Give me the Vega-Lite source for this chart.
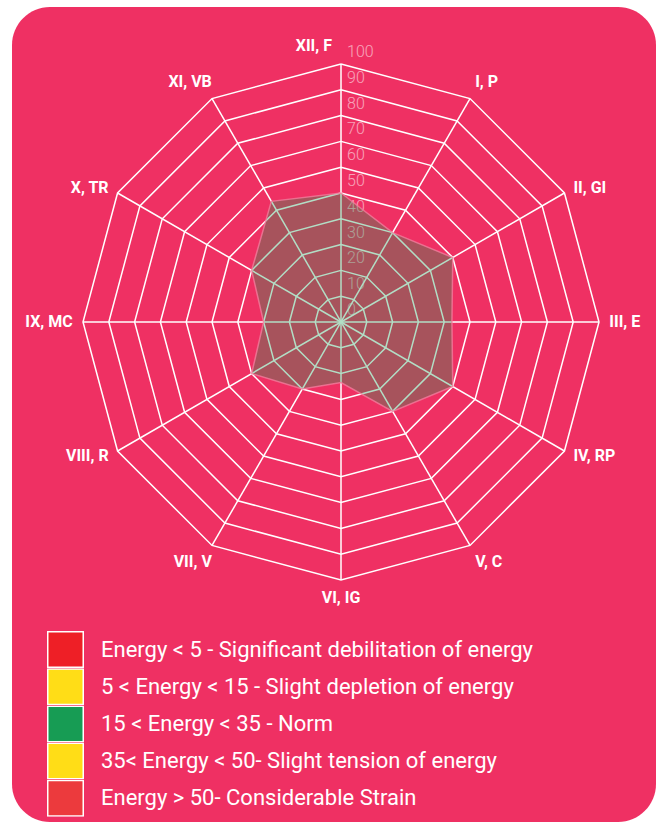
{
  "$schema": "https://vega.github.io/schema/vega-lite/v6.json",
  "width": 664,
  "height": 829,
  "autosize": {"type": "fit", "contains": "padding"},
  "padding": {"left": 12, "top": 7, "right": 8, "bottom": 7},
  "background": "#ffffff",
  "config": {
    "view": {"stroke": null},
    "legend": {
      "orient": "none",
      "legendX": 35,
      "legendY": 624,
      "padding": 0,
      "symbolType": "square",
      "symbolSize": 1260,
      "symbolStrokeColor": "#ffffff",
      "symbolStrokeWidth": 1.5,
      "symbolOpacity": 1,
      "labelFont": "Roboto",
      "labelFontSize": 22,
      "labelColor": "#ffffff",
      "labelOffset": 17,
      "labelLimit": 0,
      "clipHeight": 37,
      "rowPadding": 0.2
    }
  },
  "datasets": {
    "axes": [
      {"k": 0, "label": "XII, F", "value": 50},
      {"k": 1, "label": "I, P", "value": 40},
      {"k": 2, "label": "II, GI", "value": 50},
      {"k": 3, "label": "III, E", "value": 43},
      {"k": 4, "label": "IV, RP", "value": 50},
      {"k": 5, "label": "V, C", "value": 40},
      {"k": 6, "label": "VI, IG", "value": 23.5},
      {"k": 7, "label": "VII, V", "value": 30},
      {"k": 8, "label": "VIII, R", "value": 40},
      {"k": 9, "label": "IX, MC", "value": 30},
      {"k": 10, "label": "X, TR", "value": 40},
      {"k": 11, "label": "XI, VB", "value": 54}
    ],
    "rings": [
      {"level": 10, "k": [0,1,2,3,4,5,6,7,8,9,10,11,12]},
      {"level": 20, "k": [0,1,2,3,4,5,6,7,8,9,10,11,12]},
      {"level": 30, "k": [0,1,2,3,4,5,6,7,8,9,10,11,12]},
      {"level": 40, "k": [0,1,2,3,4,5,6,7,8,9,10,11,12]},
      {"level": 50, "k": [0,1,2,3,4,5,6,7,8,9,10,11,12]},
      {"level": 60, "k": [0,1,2,3,4,5,6,7,8,9,10,11,12]},
      {"level": 70, "k": [0,1,2,3,4,5,6,7,8,9,10,11,12]},
      {"level": 80, "k": [0,1,2,3,4,5,6,7,8,9,10,11,12]},
      {"level": 90, "k": [0,1,2,3,4,5,6,7,8,9,10,11,12]},
      {"level": 100, "k": [0,1,2,3,4,5,6,7,8,9,10,11,12]}
    ],
    "spokes": [
      {"k": 0, "level": [0, 100]}, {"k": 1, "level": [0, 100]}, {"k": 2, "level": [0, 100]},
      {"k": 3, "level": [0, 100]}, {"k": 4, "level": [0, 100]}, {"k": 5, "level": [0, 100]},
      {"k": 6, "level": [0, 100]}, {"k": 7, "level": [0, 100]}, {"k": 8, "level": [0, 100]},
      {"k": 9, "level": [0, 100]}, {"k": 10, "level": [0, 100]}, {"k": 11, "level": [0, 100]}
    ],
    "ticks": [
      {"level": 0}, {"level": 10}, {"level": 20}, {"level": 30}, {"level": 40}, {"level": 50},
      {"level": 60}, {"level": 70}, {"level": 80}, {"level": 90}, {"level": 100}
    ],
    "legend": [
      {"cat": "Energy < 5 - Significant debilitation of energy"},
      {"cat": "5 < Energy < 15 - Slight depletion of energy"},
      {"cat": "15 < Energy < 35 - Norm"},
      {"cat": "35< Energy < 50- Slight tension of energy"},
      {"cat": "Energy > 50- Considerable Strain"}
    ]
  },
  "layer": [
    {
      "data": {"values": [{}]},
      "mark": {"type": "rect", "color": "#EF3063", "cornerRadius": 38},
      "encoding": {}
    },
    {
      "data": {"name": "rings"},
      "transform": [
        {"flatten": ["k"]},
        {"calculate": "datum.level * sin(datum.k * PI / 6)", "as": "x"},
        {"calculate": "datum.level * cos(datum.k * PI / 6)", "as": "y"}
      ],
      "mark": {"type": "line", "color": "#ffffff", "strokeWidth": 1.5},
      "encoding": {
        "x": {"field": "x", "type": "quantitative", "scale": {"domain": [-127.52, 122.09], "nice": false, "zero": false}, "axis": null},
        "y": {"field": "y", "type": "quantitative", "scale": {"domain": [-193.8, 122.09], "nice": false, "zero": false}, "axis": null},
        "detail": {"field": "level", "type": "nominal"},
        "order": {"field": "k", "type": "quantitative"}
      }
    },
    {
      "data": {"name": "spokes"},
      "transform": [
        {"flatten": ["level"]},
        {"calculate": "datum.level * sin(datum.k * PI / 6)", "as": "x"},
        {"calculate": "datum.level * cos(datum.k * PI / 6)", "as": "y"}
      ],
      "mark": {"type": "line", "color": "#ffffff", "strokeWidth": 1.5},
      "encoding": {
        "x": {"field": "x", "type": "quantitative"},
        "y": {"field": "y", "type": "quantitative"},
        "detail": {"field": "k", "type": "nominal"},
        "order": {"field": "level", "type": "quantitative"}
      }
    },
    {
      "data": {"name": "ticks"},
      "transform": [
        {"calculate": "0 * datum.level", "as": "x"}
      ],
      "mark": {"type": "text", "align": "left", "baseline": "bottom", "dx": 6, "dy": -4, "font": "Roboto", "fontWeight": 300, "fontSize": 16, "color": "#ffffff", "opacity": 0.55},
      "encoding": {
        "x": {"field": "x", "type": "quantitative"},
        "y": {"field": "level", "type": "quantitative"},
        "text": {"field": "level", "type": "quantitative"}
      }
    },
    {
      "data": {"name": "axes"},
      "transform": [
        {"calculate": "datum.value * sin(datum.k * PI / 6)", "as": "x"},
        {"calculate": "datum.value * cos(datum.k * PI / 6)", "as": "y"}
      ],
      "mark": {"type": "line", "interpolate": "linear-closed", "fill": "#149A50", "fillOpacity": 0.33, "stroke": "#F27C9C", "strokeOpacity": 0.8, "strokeWidth": 1.5},
      "encoding": {
        "x": {"field": "x", "type": "quantitative"},
        "y": {"field": "y", "type": "quantitative"},
        "order": {"field": "k", "type": "quantitative"}
      }
    },
    {
      "data": {"name": "axes"},
      "transform": [
        {"calculate": "104 * sin(datum.k * PI / 6)", "as": "x"},
        {"calculate": "104 * cos(datum.k * PI / 6)", "as": "y"}
      ],
      "mark": {
        "type": "text",
        "font": "Roboto",
        "fontWeight": "bold",
        "fontSize": 16,
        "color": "#ffffff",
        "align": {"expr": "datum.k == 6 ? 'center' : (datum.k >= 1 && datum.k <= 5) ? 'left' : 'right'"},
        "baseline": {"expr": "(datum.k <= 1 || datum.k >= 11) ? 'bottom' : (datum.k >= 5 && datum.k <= 7) ? 'top' : 'middle'"},
        "dx": {"expr": "datum.k == 0 ? -9 : (datum.k == 11 || datum.k == 7) ? 5 : 0"}
      },
      "encoding": {
        "x": {"field": "x", "type": "quantitative"},
        "y": {"field": "y", "type": "quantitative"},
        "text": {"field": "label", "type": "nominal"}
      }
    },
    {
      "data": {"name": "legend"},
      "mark": {"type": "point", "filled": true, "opacity": 0},
      "encoding": {
        "color": {
          "field": "cat",
          "type": "nominal",
          "scale": {
            "domain": [
              "Energy < 5 - Significant debilitation of energy",
              "5 < Energy < 15 - Slight depletion of energy",
              "15 < Energy < 35 - Norm",
              "35< Energy < 50- Slight tension of energy",
              "Energy > 50- Considerable Strain"
            ],
            "range": ["#EE1F26", "#FFDD17", "#179C54", "#FFDD17", "#EC3A3D"]
          },
          "legend": {"title": null, "symbolOpacity": 1, "clipHeight": 37, "rowPadding": 0.2}
        }
      }
    }
  ]
}
